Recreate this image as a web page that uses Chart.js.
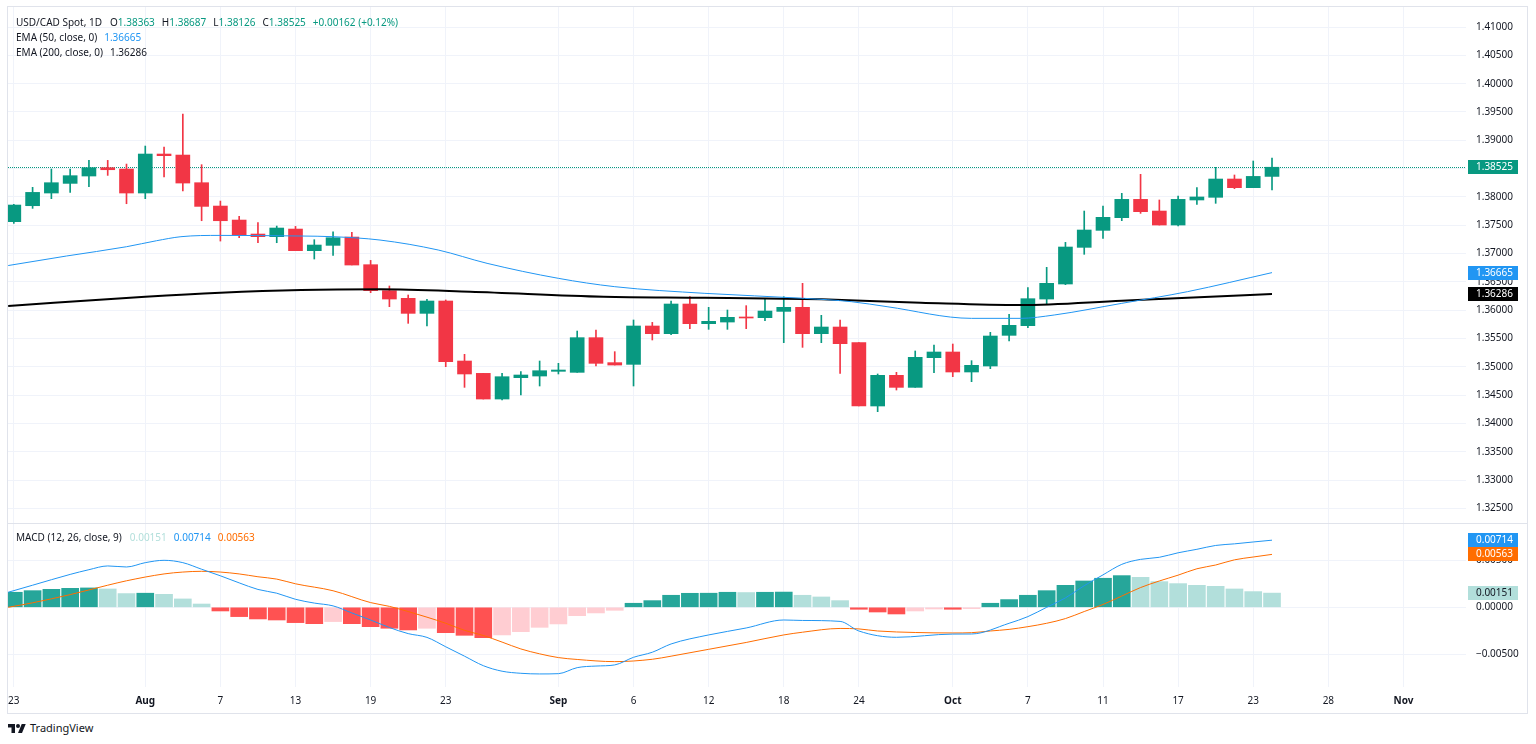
<!DOCTYPE html>
<html>
<head>
<meta charset="utf-8">
<script src="https://cdn.jsdelivr.net/npm/chart.js@4.4.0/dist/chart.umd.min.js"></script>
<style>
  body { margin: 0; background: #fff; font-family: "Noto Sans", sans-serif; color: #131722; }
  #frame { position: absolute; left: 7px; top: 6px; width: 1519px; height: 706px; border: 1px solid #e0e3eb; }
  #sep { position: absolute; left: 8px; top: 523px; width: 1519px; height: 1px; background: #e0e3eb; }
  canvas { position: absolute; left: 8px; }
  .lg { position: absolute; left: 16px; font-size: 10px; line-height: 14px; white-space: nowrap; }
  .lg span { margin-left: 7px; }
  .lg span.k { margin-left: 8px; }
  .lg span.n { margin-left: 0; }
  #brand { position: absolute; left: 8px; top: 721px; font-size: 11px; line-height: 14px; display: flex; align-items: center; }
  #brand svg { margin-right: 4px; }
</style>
</head>
<body>
<div id="frame"></div>
<canvas id="price" width="1519" height="516" style="top:7px"></canvas>
<div id="sep"></div>
<canvas id="macd" width="1519" height="189" style="top:524px"></canvas>

<div class="lg" id="head1" style="top:15px"></div>
<div class="lg" id="head2" style="top:30px"></div>
<div class="lg" id="head3" style="top:45px"></div>
<div class="lg" id="head4" style="top:530px"></div>
<div id="brand">
  <svg width="18" height="12" viewBox="0 0 36 24"><path d="M14 22H7V11H0V4h14v18z" fill="#131722"/><circle cx="20" cy="8" r="4" fill="#131722"/><path d="M28 22h-8l7.5-18h8L28 22z" fill="#131722"/></svg>
  <span>TradingView</span>
</div>

<script>
// daily candles, Jul 23 - Oct 24 (trading days only)
const opens = [1.37564,1.37846,1.38070,1.38240,1.38370,1.38517,1.38493,1.38070,1.38758,1.38740,
  1.38252,1.37840,1.37593,1.37346,1.37299,1.37434,1.37052,1.37146,1.37293,1.36805,
  1.36346,1.36211,1.35946,1.36164,1.35105,1.34887,1.34434,1.34811,1.34840,1.34923,
  1.34905,1.35517,1.35076,1.35046,1.35723,1.35587,1.36111,1.35764,1.35793,1.35882,
  1.35870,1.35981,1.36052,1.35587,1.35705,1.35429,1.34311,1.34852,1.34640,1.35164,
  1.35264,1.34911,1.35017,1.35558,1.35729,1.36199,1.36464,1.37111,1.37411,1.37635,
  1.37958,1.37752,1.37505,1.37947,1.37994,1.38317,1.38164,1.38363];
const highs = [1.37870,1.38170,1.38493,1.38493,1.38646,1.38646,1.38581,1.38899,1.38881,1.39464,
  1.38570,1.37928,1.37658,1.37546,1.37487,1.37481,1.37246,1.37387,1.37375,1.36881,
  1.36429,1.36270,1.36193,1.36182,1.35223,1.34887,1.34887,1.34917,1.35105,1.35064,
  1.35634,1.35652,1.35270,1.35829,1.35787,1.36164,1.36240,1.36052,1.36005,1.36082,
  1.36193,1.36240,1.36476,1.35911,1.35829,1.35429,1.34876,1.34905,1.35282,1.35388,
  1.35405,1.35111,1.35611,1.35929,1.36399,1.36758,1.37199,1.37752,1.37841,1.38064,
  1.38400,1.37947,1.38017,1.38164,1.38523,1.38388,1.38635,1.38687];
const lows = [1.37534,1.37799,1.37970,1.38081,1.38181,1.38381,1.37881,1.37970,1.38352,1.38105,
  1.37581,1.37222,1.37281,1.37193,1.37193,1.37052,1.36905,1.36970,1.36799,1.36311,
  1.36064,1.35770,1.35723,1.35005,1.34640,1.34434,1.34417,1.34505,1.34664,1.34876,
  1.34905,1.35017,1.35034,1.34664,1.35476,1.35570,1.35676,1.35664,1.35664,1.35676,
  1.35817,1.35429,1.35346,1.35429,1.34887,1.34311,1.34211,1.34593,1.34640,1.34899,
  1.34829,1.34740,1.34970,1.35458,1.35693,1.36111,1.36452,1.36988,1.37270,1.37582,
  1.37711,1.37505,1.37488,1.37870,1.37888,1.38147,1.38164,1.38126];
const closes = [1.37858,1.38081,1.38252,1.38376,1.38517,1.38481,1.38070,1.38758,1.38729,1.38246,
  1.37834,1.37581,1.37328,1.37299,1.37452,1.37052,1.37152,1.37281,1.36799,1.36346,
  1.36199,1.35946,1.36164,1.35093,1.34876,1.34434,1.34828,1.34858,1.34934,1.34946,
  1.35517,1.35064,1.35034,1.35723,1.35587,1.36111,1.35764,1.35805,1.35876,1.35864,
  1.35987,1.36052,1.35587,1.35705,1.35411,1.34311,1.34852,1.34640,1.35170,1.35264,
  1.34911,1.35029,1.35546,1.35735,1.36205,1.36476,1.37117,1.37417,1.37641,1.37958,
  1.37741,1.37505,1.37958,1.38000,1.38317,1.38164,1.38363,1.38525];

// moving averages (bar index, value)
const ema50Idx = [-0.3, 2.8, 6, 7.6, 8.9, 11, 15.3, 17, 19.5, 22.6, 25.2, 29, 32, 36.8, 42.1, 44.6, 46.5, 51, 53.6, 55.4, 59, 62.5, 67];
const ema50Val = [1.36790, 1.36958, 1.37122, 1.37228, 1.37299, 1.37322, 1.37311, 1.37299, 1.37240, 1.37064, 1.36829, 1.36564,
  1.36417, 1.36299, 1.36211, 1.36152, 1.36064, 1.35858, 1.35858, 1.35917, 1.36123, 1.36329, 1.36665];
const ema200Idx = [-0.3, 7, 11, 15.3, 19.5, 24.3, 31.4, 36.8, 43, 48.3, 53.6, 59, 62.5, 67];
const ema200Val = [1.36075, 1.36240, 1.36311, 1.36358, 1.36370, 1.36329, 1.36240, 1.36223, 1.36193, 1.36135, 1.36093, 1.36170, 1.36223, 1.36286];

// MACD pane
const histogram = [0.00160,0.00177,0.00191,0.00202,0.00206,0.00195,0.00146,0.00150,0.00138,0.00089,
  0.00035,-0.00039,-0.00099,-0.00124,-0.00135,-0.00163,-0.00174,-0.00152,-0.00174,-0.00206,
  -0.00223,-0.00241,-0.00223,-0.00270,-0.00298,-0.00323,-0.00294,-0.00259,-0.00213,-0.00177,
  -0.00089,-0.00060,-0.00032,0.00043,0.00071,0.00128,0.00149,0.00150,0.00160,0.00157,
  0.00160,0.00162,0.00128,0.00110,0.00071,-0.00021,-0.00050,-0.00071,-0.00039,-0.00018,
  -0.00021,-0.00014,0.00043,0.00082,0.00128,0.00177,0.00234,0.00280,0.00309,0.00337,
  0.00319,0.00273,0.00252,0.00234,0.00223,0.00195,0.00167,0.00151];
const macdIdx = [-0.3,1,3,4,5,6,7,8,9,10,11,12,13,14,15,16,17,18,19,20,21,22,23,24,25,26,27,28,29,30,31,32,33,34,35,37,39,41,42,44,45,47,50,51,53,54,55,56,57,58,59,60,61,62,63,64,65,66,67];
const macdVal = [0.00160,0.00235,0.00350,0.00400,0.00440,0.00429,0.00475,0.00500,0.00475,0.00405,0.00335,0.00260,0.00190,0.00150,
  0.00085,0.00045,0.00015,-0.00060,-0.00135,-0.00215,-0.00280,-0.00320,-0.00420,-0.00520,-0.00621,-0.00680,-0.00702,-0.00709,
  -0.00706,-0.00642,-0.00625,-0.00613,-0.00532,-0.00478,-0.00390,-0.00294,-0.00220,-0.00135,-0.00140,-0.00150,-0.00252,-0.00319,
  -0.00285,-0.00284,-0.00170,-0.00099,0.00000,0.00100,0.00230,0.00345,0.00457,0.00510,0.00532,0.00580,0.00617,0.00658,0.00675,0.00695,0.00714];
const signalIdx = [-0.3,1,3,5,6,8,9,10,11,12,13,14,15,17,19,20,21,22,23,24,25,26,27,28,29,30,32,34,35,37,39,41,42,44,45,46,48,50,51,52,53,54,55,56,57,58,59,60,61,62,63,64,65,66,67];
const signalVal = [0.00000,0.00048,0.00135,0.00235,0.00282,0.00355,0.00375,0.00383,0.00375,0.00355,0.00325,0.00300,0.00250,0.00176,
  0.00050,0.00010,-0.00045,-0.00105,-0.00170,-0.00245,-0.00300,-0.00370,-0.00443,-0.00495,-0.00535,-0.00555,-0.00578,-0.00553,
  -0.00520,-0.00447,-0.00374,-0.00294,-0.00265,-0.00225,-0.00230,-0.00252,-0.00268,-0.00273,-0.00270,-0.00252,-0.00235,-0.00206,
  -0.00170,-0.00120,-0.00045,0.00030,0.00120,0.00210,0.00280,0.00342,0.00410,0.00450,0.00505,0.00535,0.00563];

// axes
const tickIdx = [0, 7, 11, 15, 19, 23, 29, 33, 37, 41, 45, 50, 54, 58, 62, 66, 70, 74];
const tickLabels = ['23', 'Aug', '7', '13', '19', '23', 'Sep', '6', '12', '18', '24', 'Oct', '7', '11', '17', '23', '28', 'Nov'];
const months = ['Aug', 'Sep', 'Oct', 'Nov'];
const priceTicks = [1.325, 1.33, 1.335, 1.34, 1.345, 1.35, 1.355, 1.36, 1.365, 1.37, 1.375, 1.38, 1.385, 1.39, 1.395, 1.40, 1.405, 1.41];
const macdTicks = [-0.005, 0, 0.005];

const X_MIN = -0.31, X_MAX = 77.33;
const P_MIN = 1.32246, P_MAX = 1.41353;
const M_MIN = -0.008479, M_MAX = 0.008862;
const AXIS_W = 61;

const FONT = '"Noto Sans", sans-serif';
const TEXT = '#131722';
const GRID = '#f0f3fa';
const UP = '#089981', DOWN = '#f23645';
const BLUE = '#2196f3', ORANGE = '#ff6d00';

Chart.defaults.font.family = FONT;
Chart.defaults.font.size = 10;
Chart.defaults.color = TEXT;

const last = closes.length - 1;
const fmt = v => (v < 0 ? '\u2212' : '') + Math.abs(v).toFixed(5);

// legends
const change = closes[last] - closes[last - 1];
const pct = change / closes[last - 1] * 100;
const g = t => '<span class="n" style="color:' + UP + '">' + t + '</span>';
document.getElementById('head1').innerHTML = 'USD/CAD Spot, 1D' +
  '<span class="k">O' + g(opens[last].toFixed(5)) + '</span>' +
  '<span>H' + g(highs[last].toFixed(5)) + '</span>' +
  '<span>L' + g(lows[last].toFixed(5)) + '</span>' +
  '<span>C' + g(closes[last].toFixed(5)) + '</span>' +
  '<span style="color:' + UP + '">' + (change >= 0 ? '+' : '') + change.toFixed(5) + ' (' + (pct >= 0 ? '+' : '') + pct.toFixed(2) + '%)</span>';
document.getElementById('head2').innerHTML = 'EMA (50, close, 0)<span style="color:' + BLUE + '">' + ema50Val[ema50Val.length - 1].toFixed(5) + '</span>';
document.getElementById('head3').innerHTML = 'EMA (200, close, 0)<span>' + ema200Val[ema200Val.length - 1].toFixed(5) + '</span>';
document.getElementById('head4').innerHTML = 'MACD (12, 26, close, 9)' +
  '<span class="k" style="color:#b2dfdb">' + histogram[last].toFixed(5) + '</span>' +
  '<span style="color:' + BLUE + '">' + macdVal[macdVal.length - 1].toFixed(5) + '</span>' +
  '<span style="color:' + ORANGE + '">' + signalVal[signalVal.length - 1].toFixed(5) + '</span>';

function pts(xs, ys) {
  return xs.map((x, i) => ({ x: x, y: ys[i] }));
}

function xAxis(showLabels) {
  return {
    type: 'linear', min: X_MIN, max: X_MAX, offset: false,
    afterBuildTicks: s => { s.ticks = tickIdx.map(v => ({ value: v })); },
    afterFit: s => { s.height = showLabels ? 26 : 0; s.paddingLeft = 0; s.paddingRight = 0; },
    grid: { color: GRID, drawTicks: false, offset: false },
    border: { display: false },
    ticks: {
      display: showLabels, padding: 8, color: TEXT, autoSkip: false, maxRotation: 0,
      callback: v => tickLabels[tickIdx.indexOf(v)],
      font: ctx => ({ family: FONT, size: 10, weight: months.includes(tickLabels[ctx.index]) ? 'bold' : 'normal' })
    }
  };
}

function yAxis(min, max, ticks, label) {
  return {
    position: 'right', min: min, max: max,
    afterBuildTicks: s => { s.ticks = ticks.map(v => ({ value: v })); },
    afterFit: s => { s.width = AXIS_W; s.paddingTop = 0; s.paddingBottom = 0; },
    grid: { color: GRID, drawTicks: false },
    border: { display: false },
    ticks: { padding: 10, color: TEXT, font: { family: FONT, size: 10 }, callback: label }
  };
}

function drawTag(ctx, scale, value, bg, fg, text) {
  const y = Math.round(scale.getPixelForValue(value));
  ctx.save();
  ctx.fillStyle = bg;
  ctx.fillRect(scale.left + 2, y - 7, 50, 14);
  ctx.fillStyle = fg;
  ctx.font = '10px ' + FONT;
  ctx.textAlign = 'left';
  ctx.textBaseline = 'middle';
  ctx.fillText(text, scale.left + 10, y + 0.5);
  ctx.restore();
}

const priceTags = {
  id: 'priceTags',
  beforeDatasetsDraw(chart) {
    const { ctx, chartArea } = chart;
    const y = Math.round(chart.scales.y.getPixelForValue(closes[last])) + 0.5;
    ctx.save();
    ctx.strokeStyle = UP;
    ctx.lineWidth = 1;
    ctx.setLineDash([1, 1]);
    ctx.beginPath();
    ctx.moveTo(chartArea.left, y);
    ctx.lineTo(chartArea.right, y);
    ctx.stroke();
    ctx.restore();
  },
  afterDraw(chart) {
    const s = chart.scales.y;
    drawTag(chart.ctx, s, closes[last], UP, '#fff', closes[last].toFixed(5));
    drawTag(chart.ctx, s, ema50Val[ema50Val.length - 1], BLUE, '#fff', ema50Val[ema50Val.length - 1].toFixed(5));
    drawTag(chart.ctx, s, ema200Val[ema200Val.length - 1], '#000', '#fff', ema200Val[ema200Val.length - 1].toFixed(5));
  }
};

const macdTags = {
  id: 'macdTags',
  afterDraw(chart) {
    const s = chart.scales.y;
    const m = macdVal[macdVal.length - 1], sg = signalVal[signalVal.length - 1], h = histogram[last];
    drawTag(chart.ctx, s, h, '#b2dfdb', TEXT, fmt(h));
    drawTag(chart.ctx, s, sg, ORANGE, '#fff', fmt(sg));
    drawTag(chart.ctx, s, m, BLUE, '#fff', fmt(m));
  }
};

const candleColors = closes.map((c, i) => c >= opens[i] ? UP : DOWN);
const histColors = histogram.map((v, i) => {
  const prev = i > 0 ? histogram[i - 1] : -Infinity;
  if (v >= 0) return v >= prev ? '#26a69a' : '#b2dfdb';
  return v < prev ? '#ff5252' : '#ffcdd2';
});

new Chart(document.getElementById('price'), {
  type: 'bar',
  data: {
    datasets: [
      {
        type: 'line', data: pts(ema50Idx, ema50Val), borderColor: BLUE, borderWidth: 1,
        pointRadius: 0, cubicInterpolationMode: 'monotone', order: 0
      },
      {
        type: 'line', data: pts(ema200Idx, ema200Val), borderColor: '#000', borderWidth: 2,
        pointRadius: 0, cubicInterpolationMode: 'monotone', order: 0
      },
      {
        data: opens.map((o, i) => ({ x: i, y: [o, closes[i]] })),
        backgroundColor: candleColors, barThickness: 14, grouped: false, minBarLength: 1, order: 1
      },
      {
        data: lows.map((l, i) => ({ x: i, y: [l, highs[i]] })),
        backgroundColor: candleColors, barThickness: 1, grouped: false, order: 2
      }
    ]
  },
  options: {
    responsive: false, animation: false, events: [],
    layout: { padding: 0 },
    plugins: { legend: { display: false }, tooltip: { enabled: false } },
    scales: {
      x: xAxis(false),
      y: yAxis(P_MIN, P_MAX, priceTicks, v => v.toFixed(5))
    }
  },
  plugins: [priceTags]
});

new Chart(document.getElementById('macd'), {
  type: 'bar',
  data: {
    datasets: [
      {
        type: 'line', data: pts(macdIdx, macdVal), borderColor: BLUE, borderWidth: 1,
        pointRadius: 0, cubicInterpolationMode: 'monotone', order: 0
      },
      {
        type: 'line', data: pts(signalIdx, signalVal), borderColor: ORANGE, borderWidth: 1,
        pointRadius: 0, cubicInterpolationMode: 'monotone', order: 0
      },
      {
        data: histogram.map((v, i) => ({ x: i, y: v })),
        backgroundColor: histColors, barThickness: 17, grouped: false, order: 1
      }
    ]
  },
  options: {
    responsive: false, animation: false, events: [],
    layout: { padding: 0 },
    plugins: { legend: { display: false }, tooltip: { enabled: false } },
    scales: {
      x: xAxis(true),
      y: yAxis(M_MIN, M_MAX, macdTicks, v => fmt(v))
    }
  },
  plugins: [macdTags]
});
</script>
</body>
</html>
